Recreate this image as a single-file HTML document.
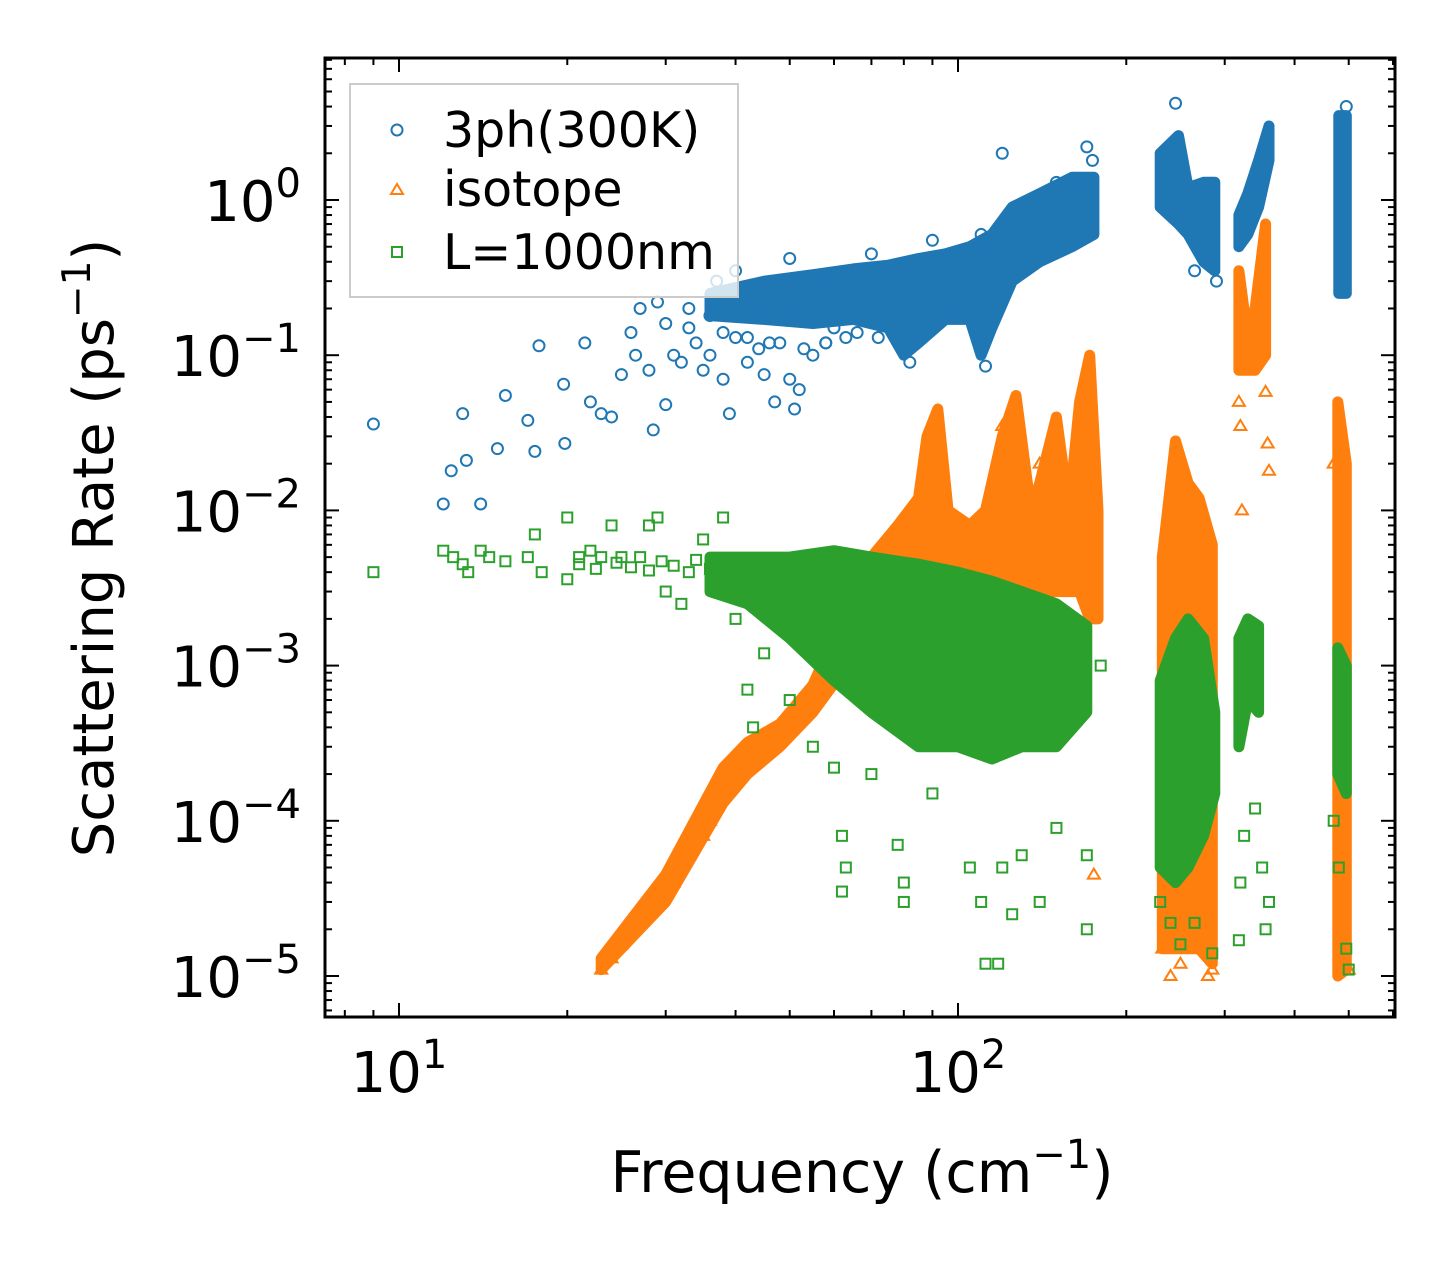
<!DOCTYPE html>
<html><head><meta charset="utf-8"><style>
html,body{margin:0;padding:0;background:#fff;}
svg{display:block;font-family:"DejaVu Sans","Liberation Sans",sans-serif;}
</style></head><body>
<svg id="chart" width="1455" height="1265" viewBox="0 0 1455 1265" xmlns="http://www.w3.org/2000/svg">
<defs><clipPath id="clip"><rect x="325" y="58" width="1070" height="959"/></clipPath></defs>
<rect x="0" y="0" width="1455" height="1265" fill="#fff"/>
<g id="marks" clip-path="url(#clip)"></g>
<g id="axes"></g>
<text x="862" y="1192" text-anchor="middle" font-size="57">Frequency (cm<tspan font-size="40" dy="-24">−1</tspan><tspan dy="24">)</tspan></text>
<text transform="translate(113,548) rotate(-90)" text-anchor="middle" font-size="56">Scattering Rate (ps<tspan font-size="39" dy="-23">−1</tspan><tspan dy="23">)</tspan></text>
<g>
<rect x="350" y="84" width="388" height="213" fill="#fff" fill-opacity="0.8" stroke="#ccc" stroke-width="2"/>
<circle cx="397" cy="130" r="5.5" fill="none" stroke="#1f77b4" stroke-width="2"/>
<text x="443" y="147" font-size="49">3ph(300K)</text>
<polygon points="397,184 403,194 391,194" fill="none" stroke="#ff7f0e" stroke-width="2"/>
<text x="443" y="206" font-size="49">isotope</text>
<rect x="392" y="247" width="10" height="10" fill="none" stroke="#2ca02c" stroke-width="2"/>
<text x="443" y="269" font-size="49">L=1000nm</text>
</g>
</svg>
<script>
// axis ticks
const xTickVals = [10, 100];
const xTickLabels = ["1", "2"];
const yTickVals = [1, 0.1, 0.01, 0.001, 0.0001, 0.00001];
const yTickLabels = ["0", "−1", "−2", "−3", "−4", "−5"];

// blue: 3ph scattered points [freq, rate]
const blueF = [9,12,12.4,13,13.2,14,15,15.5,17,17.5,17.8,19.7,19.8,21.5,22,23,24,25,26,26.5,27,28,28.5,29,30,30,31,32,33,34,35,36,37,38,39,40,42,44,45,47,48,50,51,52,55,58,60,63,40,50,70,90,110,150,170,120,174,82,112,245,265,290,495,33,36,38,42,46,53,58,66,72];
const blueR = [0.036,0.011,0.018,0.042,0.021,0.011,0.025,0.055,0.038,0.024,0.115,0.065,0.027,0.12,0.05,0.042,0.04,0.075,0.14,0.1,0.2,0.08,0.033,0.22,0.048,0.16,0.1,0.09,0.2,0.12,0.08,0.1,0.3,0.07,0.042,0.13,0.09,0.11,0.075,0.05,0.12,0.07,0.045,0.06,0.1,0.12,0.15,0.13,0.35,0.42,0.45,0.55,0.6,1.3,2.2,2.0,1.8,0.09,0.085,4.2,0.35,0.3,4.0,0.15,0.18,0.14,0.13,0.12,0.11,0.12,0.14,0.13];
// blue dense regions [freq, low, high]
const blueBands = [
 [[36,0.18,0.25],[45,0.17,0.3],[55,0.16,0.33],[65,0.17,0.36],[75,0.15,0.38],[80,0.1,0.4],[85,0.12,0.42],[95,0.17,0.45],[105,0.17,0.5],[110,0.1,0.55],[115,0.15,0.6],[125,0.3,0.9],[140,0.4,1.1],[160,0.5,1.4],[175,0.6,1.4]],
 [[230,0.9,2.0],[248,0.7,2.6],[258,0.6,1.2],[275,0.4,1.3],[288,0.35,1.3]],
 [[318,0.5,0.8],[330,0.6,1.1],[345,0.9,1.8],[360,1.8,3.0]],
 [[480,0.25,3.5],[495,0.25,3.5]]
];
// orange: isotope
const orangeF = [23,24,25,27,29,31,33,35,36,40,45,120,140,160,170,175,232,240,250,280,285,318,320,322,355,358,360,470,500];
const orangeR = [1.1e-5,1.3e-5,1.6e-5,2.2e-5,3e-5,4e-5,6e-5,8e-5,1e-4,2.5e-4,3.5e-4,0.035,0.02,0.015,0.025,4.5e-5,1.5e-5,1e-5,1.2e-5,1e-5,1.1e-5,0.05,0.035,0.01,0.058,0.027,0.018,0.02,1.1e-5];
const orangeBands = [
 [[23,1.1e-5,1.3e-5],[30,3e-5,4.5e-5],[38,1.3e-4,2.2e-4],[42,2e-4,3.2e-4],[48,3e-4,4.2e-4],[55,5e-4,7.5e-4],[62,9e-4,2e-3],[70,1.5e-3,5e-3],[78,2e-3,8e-3],[85,2e-3,0.012],[88,2e-3,0.03],[92,2.5e-3,0.045],[96,2.5e-3,0.01],[105,2.5e-3,0.008],[112,2.5e-3,0.01],[120,3e-3,0.03],[127,3e-3,0.055],[135,3e-3,0.01],[140,3e-3,0.015],[150,3e-3,0.04],[158,3e-3,0.01],[165,3e-3,0.05],[172,2e-3,0.1],[178,2e-3,0.01]],
 [[232,1.5e-5,5e-3],[245,1.5e-5,0.028],[258,1.5e-5,0.015],[270,1.5e-5,0.012],[285,1.2e-5,6e-3]],
 [[318,0.08,0.35],[328,0.08,0.15],[340,0.08,0.2],[355,0.1,0.7]],
 [[478,1e-5,0.05],[495,1.1e-5,0.02]]
];
// green: boundary L=1000nm
const greenF = [9,12,12.5,13,13.3,14,14.5,15.5,17,17.5,18,20,20,21,22,24,25,28,29,30,32,35,38,40,42,43,45,50,55,60,62,63,62,70,78,80,80,90,105,110,112,118,120,125,130,140,150,170,170,180,230,240,250,265,285,318,320,325,340,350,355,360,470,480,495,500,21,22.5,23,24.5,26,27,28,29.5,31,33,34,36];
const greenR = [0.004,0.0055,0.005,0.0045,0.004,0.0055,0.005,0.0047,0.005,0.007,0.004,0.009,0.0036,0.005,0.0055,0.008,0.005,0.008,0.009,0.003,0.0025,0.0065,0.009,0.002,0.0007,0.0004,0.0012,0.0006,0.0003,0.00022,0.00008,0.00005,0.000035,0.0002,0.00007,0.00004,0.00003,0.00015,0.00005,0.00003,0.000012,0.000012,0.00005,0.000025,0.00006,0.00003,0.00009,0.00002,0.00006,0.001,3e-5,2.2e-5,1.6e-5,2.2e-5,1.4e-5,1.7e-5,4e-5,8e-5,1.2e-4,5e-5,2e-5,3e-5,1e-4,5e-5,1.5e-5,1.1e-5,0.0045,0.0042,0.005,0.0046,0.0043,0.005,0.0041,0.0047,0.0044,0.004,0.0048,0.0042];
const greenBands = [
 [[36,3e-3,5e-3],[42,2.5e-3,5e-3],[50,1.5e-3,5e-3],[60,8e-4,5.5e-3],[70,5e-4,5e-3],[85,3e-4,4.5e-3],[100,3e-4,4e-3],[115,2.5e-4,3.5e-3],[130,3e-4,3e-3],[150,3e-4,2.5e-3],[170,5e-4,1.8e-3]],
 [[230,5e-5,8e-4],[245,4e-5,1.5e-3],[258,5e-5,2e-3],[275,8e-5,1.5e-3],[288,1.5e-4,5e-4]],
 [[318,3e-4,1.5e-3],[330,6e-4,2e-3],[345,5e-4,1.8e-3]],
 [[478,2e-4,1.3e-3],[495,1.5e-4,1e-3]]
];

const NS = "http://www.w3.org/2000/svg";
const L = 325, R = 1395, T = 58, B = 1017;
function xs(f){ return 399 + (Math.log10(f) - 1) * 559; }
function ys(r){ return 200 - Math.log10(r) * 155.2; }
const marks = document.getElementById('marks');
const axes = document.getElementById('axes');
function mk(tag, attrs, parent){
  const e = document.createElementNS(NS, tag);
  for (const k in attrs) e.setAttribute(k, attrs[k]);
  parent.appendChild(e); return e;
}
function drawBands(bands, color, name){
  bands.forEach(function(b){
    const top = b.map(p => xs(p[0]).toFixed(1) + ',' + ys(p[2]).toFixed(1));
    const bot = b.slice().reverse().map(p => xs(p[0]).toFixed(1) + ',' + ys(p[1]).toFixed(1));
    const pg = mk('polygon', {points: top.concat(bot).join(' '), fill: color, stroke: color, 'stroke-width': 11, 'stroke-linejoin': 'round'}, marks);
    
    
  });
}
function drawPts(F, Rv, color, shape, name){
  for (let i = 0; i < F.length; i++){
    const x = xs(F[i]), y = ys(Rv[i]);
    let e;
    if (shape === 'c') e = mk('circle', {cx: x, cy: y, r: 5.5, fill: 'none', stroke: color, 'stroke-width': 2}, marks);
    else if (shape === 't') e = mk('polygon', {points: x+','+(y-6)+' '+(x+6)+','+(y+4)+' '+(x-6)+','+(y+4), fill: 'none', stroke: color, 'stroke-width': 2}, marks);
    else e = mk('rect', {x: x-5, y: y-5, width: 10, height: 10, fill: 'none', stroke: color, 'stroke-width': 2}, marks);
    
    
  }
}
drawBands(blueBands, '#1f77b4', 'cluster-3ph');
drawPts(blueF, blueR, '#1f77b4', 'c', 'point-3ph');
drawBands(orangeBands, '#ff7f0e', 'cluster-isotope');
drawPts(orangeF, orangeR, '#ff7f0e', 't', 'point-isotope');
drawBands(greenBands, '#2ca02c', 'cluster-boundary');
drawPts(greenF, greenR, '#2ca02c', 's', 'point-boundary');

// ticks
function line(x1,y1,x2,y2,w,name){
  const e = mk('line', {x1:x1,y1:y1,x2:x2,y2:y2,stroke:'#000','stroke-width':w}, axes);
  
  
}
for (let d = 0; d <= 3; d++){
  for (let m = 1; m <= 9; m++){
    const f = m * Math.pow(10, d);
    const x = xs(f);
    if (x < L || x > R) continue;
    const len = m === 1 ? 14 : 7;
    line(x, B, x, B-len, 2, 'x-tick');
    line(x, T, x, T+len, 2, 'x-tick-top');
  }
}
for (let d = -6; d <= 1; d++){
  for (let m = 1; m <= 9; m++){
    const r = m * Math.pow(10, d);
    const y = ys(r);
    if (y < T || y > B) continue;
    const len = m === 1 ? 14 : 7;
    line(L, y, L+len, y, 2, 'y-tick');
    line(R, y, R-len, y, 2, 'y-tick-right');
  }
}
xTickVals.forEach(function(v, i){
  const t = mk('text', {x: xs(v), y: 1092, 'text-anchor': 'middle', 'font-size': 56}, axes);
  
  
  t.appendChild(document.createTextNode('10'));
  const s = mk('tspan', {'font-size': 40, dy: -24}, t);
  s.textContent = xTickLabels[i];
});
yTickVals.forEach(function(v, i){
  const t = mk('text', {x: 301, y: ys(v) + 21, 'text-anchor': 'end', 'font-size': 56}, axes);
  
  
  t.appendChild(document.createTextNode('10'));
  const s = mk('tspan', {'font-size': 40, dy: -24}, t);
  s.textContent = yTickLabels[i];
});
const frame = mk('rect', {x: L, y: T, width: R-L, height: B-T, fill: 'none', stroke: '#000', 'stroke-width': 3}, axes);


</script>
</body></html>
